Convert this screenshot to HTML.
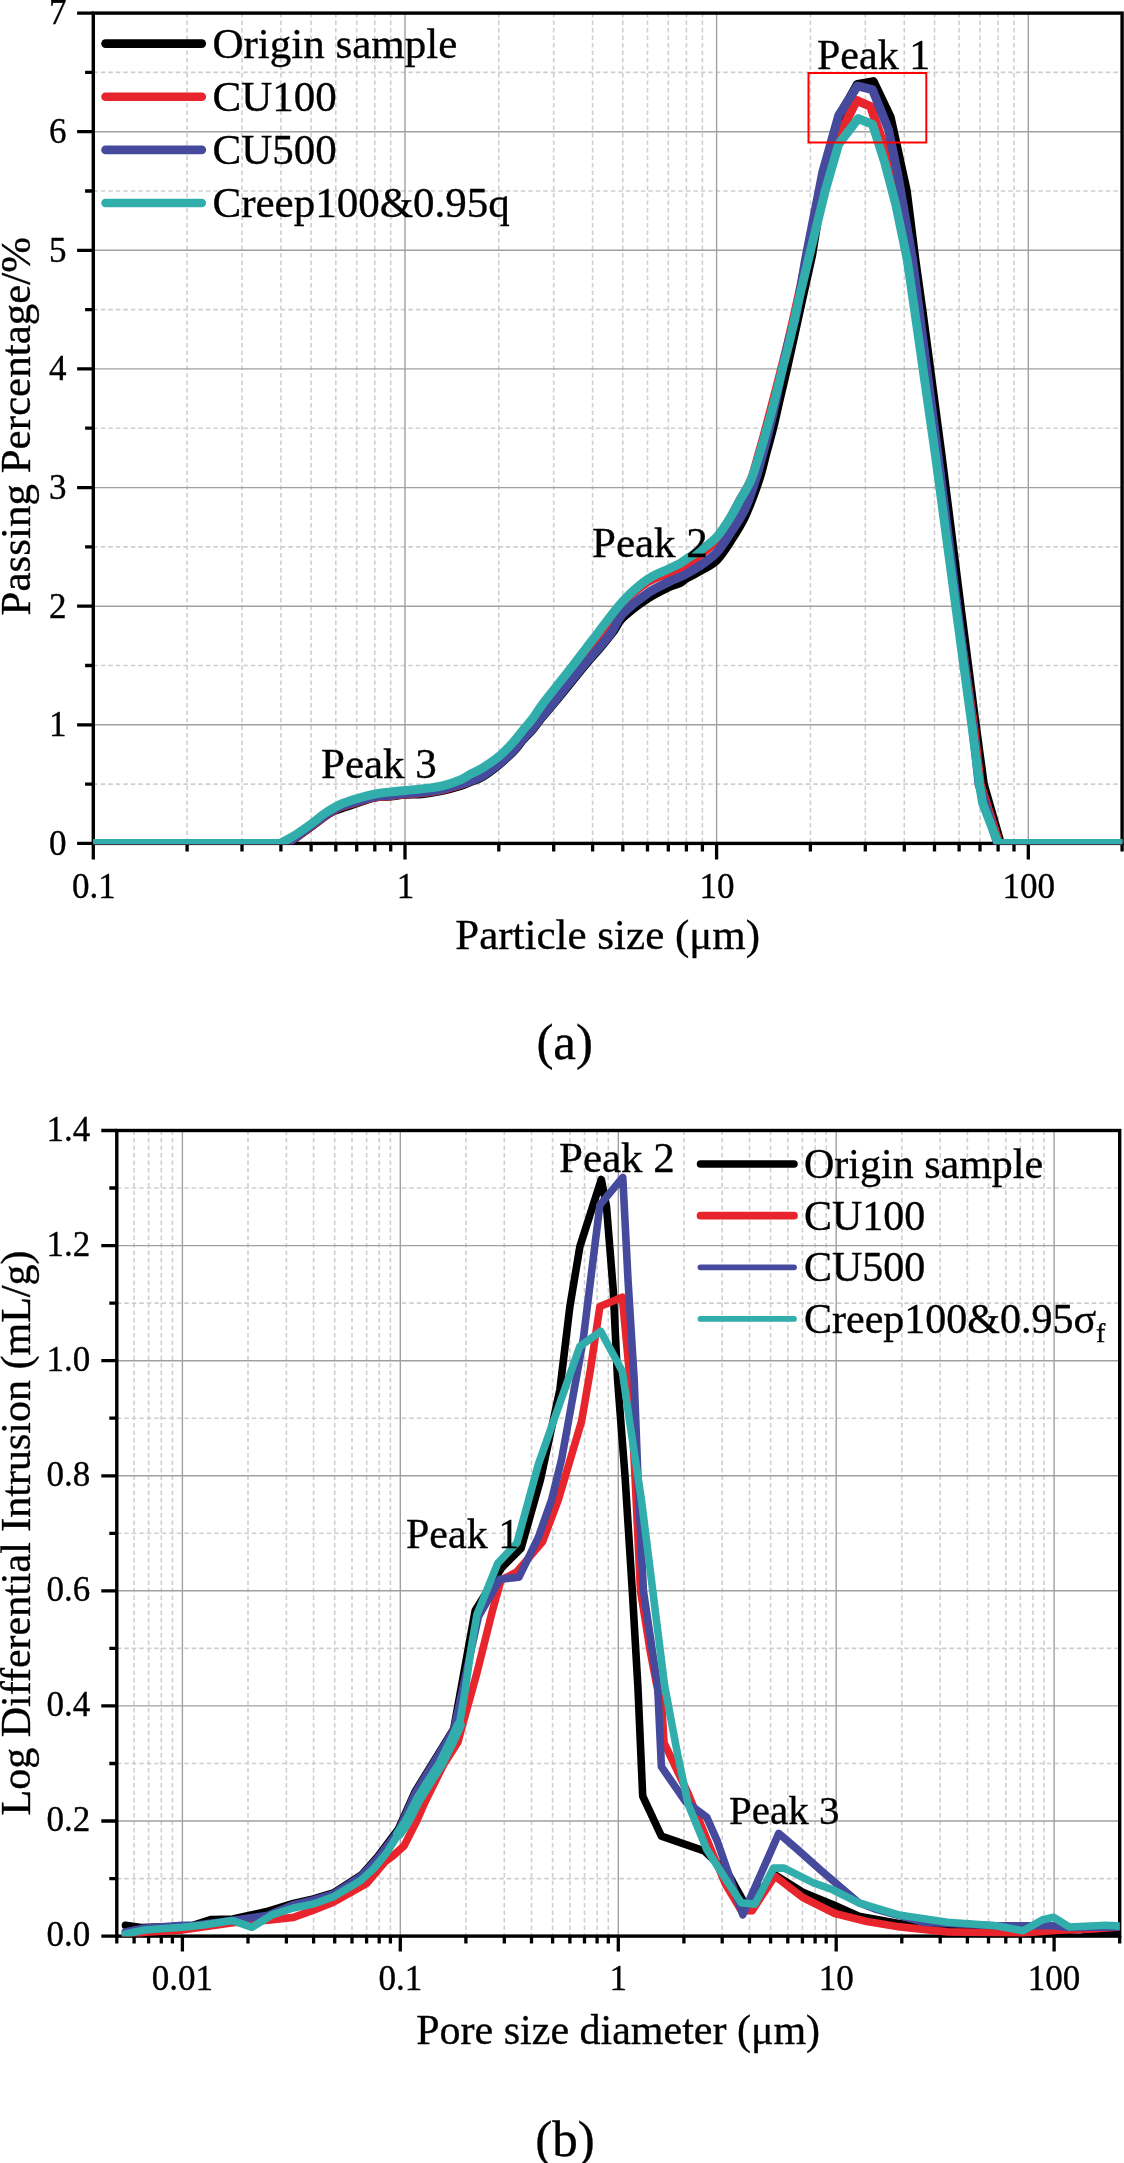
<!DOCTYPE html><html><head><meta charset="utf-8"><style>html,body{margin:0;padding:0;background:#fff;overflow:hidden}svg{display:block;will-change:transform}text{font-family:"Liberation Serif",serif;fill:#000;stroke:#000;stroke-width:0.35px}.mi{stroke:#cfcfcf;stroke-width:1.6;stroke-dasharray:4.5 3}.ma{stroke:#a0a0a0;stroke-width:1.4}.tk{stroke:#000;stroke-width:3.3;fill:none}.fr{fill:none;stroke:#000;stroke-width:3.4}</style></head><body>
<svg width="1124" height="2163" viewBox="0 0 1124 2163">
<defs><clipPath id="ca"><rect x="93.3" y="13.1" width="1029.1" height="831.0999999999999"/></clipPath><clipPath id="cb"><rect x="116.8" y="1130.5" width="1002.9000000000001" height="805.8999999999999"/></clipPath></defs>
<line x1="187.1" y1="13.1" x2="187.1" y2="843.4" class="mi"/>
<line x1="242.0" y1="13.1" x2="242.0" y2="843.4" class="mi"/>
<line x1="280.9" y1="13.1" x2="280.9" y2="843.4" class="mi"/>
<line x1="311.1" y1="13.1" x2="311.1" y2="843.4" class="mi"/>
<line x1="335.8" y1="13.1" x2="335.8" y2="843.4" class="mi"/>
<line x1="356.7" y1="13.1" x2="356.7" y2="843.4" class="mi"/>
<line x1="374.8" y1="13.1" x2="374.8" y2="843.4" class="mi"/>
<line x1="390.7" y1="13.1" x2="390.7" y2="843.4" class="mi"/>
<line x1="498.8" y1="13.1" x2="498.8" y2="843.4" class="mi"/>
<line x1="553.7" y1="13.1" x2="553.7" y2="843.4" class="mi"/>
<line x1="592.6" y1="13.1" x2="592.6" y2="843.4" class="mi"/>
<line x1="622.8" y1="13.1" x2="622.8" y2="843.4" class="mi"/>
<line x1="647.5" y1="13.1" x2="647.5" y2="843.4" class="mi"/>
<line x1="668.3" y1="13.1" x2="668.3" y2="843.4" class="mi"/>
<line x1="686.4" y1="13.1" x2="686.4" y2="843.4" class="mi"/>
<line x1="702.4" y1="13.1" x2="702.4" y2="843.4" class="mi"/>
<line x1="810.4" y1="13.1" x2="810.4" y2="843.4" class="mi"/>
<line x1="865.3" y1="13.1" x2="865.3" y2="843.4" class="mi"/>
<line x1="904.3" y1="13.1" x2="904.3" y2="843.4" class="mi"/>
<line x1="934.5" y1="13.1" x2="934.5" y2="843.4" class="mi"/>
<line x1="959.1" y1="13.1" x2="959.1" y2="843.4" class="mi"/>
<line x1="980.0" y1="13.1" x2="980.0" y2="843.4" class="mi"/>
<line x1="998.1" y1="13.1" x2="998.1" y2="843.4" class="mi"/>
<line x1="1014.0" y1="13.1" x2="1014.0" y2="843.4" class="mi"/>
<line x1="93.3" y1="784.1" x2="1122.1" y2="784.1" class="mi"/>
<line x1="93.3" y1="665.5" x2="1122.1" y2="665.5" class="mi"/>
<line x1="93.3" y1="546.9" x2="1122.1" y2="546.9" class="mi"/>
<line x1="93.3" y1="428.2" x2="1122.1" y2="428.2" class="mi"/>
<line x1="93.3" y1="309.6" x2="1122.1" y2="309.6" class="mi"/>
<line x1="93.3" y1="191.0" x2="1122.1" y2="191.0" class="mi"/>
<line x1="93.3" y1="72.4" x2="1122.1" y2="72.4" class="mi"/>
<line x1="405.0" y1="13.1" x2="405.0" y2="843.4" class="ma"/>
<line x1="716.6" y1="13.1" x2="716.6" y2="843.4" class="ma"/>
<line x1="1028.3" y1="13.1" x2="1028.3" y2="843.4" class="ma"/>
<line x1="93.3" y1="724.8" x2="1122.1" y2="724.8" class="ma"/>
<line x1="93.3" y1="606.2" x2="1122.1" y2="606.2" class="ma"/>
<line x1="93.3" y1="487.6" x2="1122.1" y2="487.6" class="ma"/>
<line x1="93.3" y1="368.9" x2="1122.1" y2="368.9" class="ma"/>
<line x1="93.3" y1="250.3" x2="1122.1" y2="250.3" class="ma"/>
<line x1="93.3" y1="131.7" x2="1122.1" y2="131.7" class="ma"/>
<line x1="134.1" y1="1130.5" x2="134.1" y2="1936.1" class="mi"/>
<line x1="148.6" y1="1130.5" x2="148.6" y2="1936.1" class="mi"/>
<line x1="161.3" y1="1130.5" x2="161.3" y2="1936.1" class="mi"/>
<line x1="172.4" y1="1130.5" x2="172.4" y2="1936.1" class="mi"/>
<line x1="248.0" y1="1130.5" x2="248.0" y2="1936.1" class="mi"/>
<line x1="286.4" y1="1130.5" x2="286.4" y2="1936.1" class="mi"/>
<line x1="313.6" y1="1130.5" x2="313.6" y2="1936.1" class="mi"/>
<line x1="334.7" y1="1130.5" x2="334.7" y2="1936.1" class="mi"/>
<line x1="352.0" y1="1130.5" x2="352.0" y2="1936.1" class="mi"/>
<line x1="366.6" y1="1130.5" x2="366.6" y2="1936.1" class="mi"/>
<line x1="379.2" y1="1130.5" x2="379.2" y2="1936.1" class="mi"/>
<line x1="390.4" y1="1130.5" x2="390.4" y2="1936.1" class="mi"/>
<line x1="465.9" y1="1130.5" x2="465.9" y2="1936.1" class="mi"/>
<line x1="504.3" y1="1130.5" x2="504.3" y2="1936.1" class="mi"/>
<line x1="531.5" y1="1130.5" x2="531.5" y2="1936.1" class="mi"/>
<line x1="552.6" y1="1130.5" x2="552.6" y2="1936.1" class="mi"/>
<line x1="569.9" y1="1130.5" x2="569.9" y2="1936.1" class="mi"/>
<line x1="584.5" y1="1130.5" x2="584.5" y2="1936.1" class="mi"/>
<line x1="597.1" y1="1130.5" x2="597.1" y2="1936.1" class="mi"/>
<line x1="608.3" y1="1130.5" x2="608.3" y2="1936.1" class="mi"/>
<line x1="683.9" y1="1130.5" x2="683.9" y2="1936.1" class="mi"/>
<line x1="722.2" y1="1130.5" x2="722.2" y2="1936.1" class="mi"/>
<line x1="749.5" y1="1130.5" x2="749.5" y2="1936.1" class="mi"/>
<line x1="770.6" y1="1130.5" x2="770.6" y2="1936.1" class="mi"/>
<line x1="787.8" y1="1130.5" x2="787.8" y2="1936.1" class="mi"/>
<line x1="802.4" y1="1130.5" x2="802.4" y2="1936.1" class="mi"/>
<line x1="815.1" y1="1130.5" x2="815.1" y2="1936.1" class="mi"/>
<line x1="826.2" y1="1130.5" x2="826.2" y2="1936.1" class="mi"/>
<line x1="901.8" y1="1130.5" x2="901.8" y2="1936.1" class="mi"/>
<line x1="940.2" y1="1130.5" x2="940.2" y2="1936.1" class="mi"/>
<line x1="967.4" y1="1130.5" x2="967.4" y2="1936.1" class="mi"/>
<line x1="988.5" y1="1130.5" x2="988.5" y2="1936.1" class="mi"/>
<line x1="1005.8" y1="1130.5" x2="1005.8" y2="1936.1" class="mi"/>
<line x1="1020.3" y1="1130.5" x2="1020.3" y2="1936.1" class="mi"/>
<line x1="1033.0" y1="1130.5" x2="1033.0" y2="1936.1" class="mi"/>
<line x1="1044.1" y1="1130.5" x2="1044.1" y2="1936.1" class="mi"/>
<line x1="116.8" y1="1878.6" x2="1119.7" y2="1878.6" class="mi"/>
<line x1="116.8" y1="1763.5" x2="1119.7" y2="1763.5" class="mi"/>
<line x1="116.8" y1="1648.4" x2="1119.7" y2="1648.4" class="mi"/>
<line x1="116.8" y1="1533.3" x2="1119.7" y2="1533.3" class="mi"/>
<line x1="116.8" y1="1418.2" x2="1119.7" y2="1418.2" class="mi"/>
<line x1="116.8" y1="1303.1" x2="1119.7" y2="1303.1" class="mi"/>
<line x1="116.8" y1="1188.0" x2="1119.7" y2="1188.0" class="mi"/>
<line x1="182.4" y1="1130.5" x2="182.4" y2="1936.1" class="ma"/>
<line x1="400.3" y1="1130.5" x2="400.3" y2="1936.1" class="ma"/>
<line x1="618.3" y1="1130.5" x2="618.3" y2="1936.1" class="ma"/>
<line x1="836.2" y1="1130.5" x2="836.2" y2="1936.1" class="ma"/>
<line x1="1054.1" y1="1130.5" x2="1054.1" y2="1936.1" class="ma"/>
<line x1="116.8" y1="1821.0" x2="1119.7" y2="1821.0" class="ma"/>
<line x1="116.8" y1="1705.9" x2="1119.7" y2="1705.9" class="ma"/>
<line x1="116.8" y1="1590.8" x2="1119.7" y2="1590.8" class="ma"/>
<line x1="116.8" y1="1475.8" x2="1119.7" y2="1475.8" class="ma"/>
<line x1="116.8" y1="1360.7" x2="1119.7" y2="1360.7" class="ma"/>
<line x1="116.8" y1="1245.6" x2="1119.7" y2="1245.6" class="ma"/>
<path d="M93.3 843.4v16.2 M405.0 843.4v16.2 M716.6 843.4v16.2 M1028.3 843.4v16.2 M187.1 843.4v8.2 M242.0 843.4v8.2 M280.9 843.4v8.2 M311.1 843.4v8.2 M335.8 843.4v8.2 M356.7 843.4v8.2 M374.8 843.4v8.2 M390.7 843.4v8.2 M498.8 843.4v8.2 M553.7 843.4v8.2 M592.6 843.4v8.2 M622.8 843.4v8.2 M647.5 843.4v8.2 M668.3 843.4v8.2 M686.4 843.4v8.2 M702.4 843.4v8.2 M810.4 843.4v8.2 M865.3 843.4v8.2 M904.3 843.4v8.2 M934.5 843.4v8.2 M959.1 843.4v8.2 M980.0 843.4v8.2 M998.1 843.4v8.2 M1014.0 843.4v8.2 M1122.1 843.4v8.2 M93.3 843.4h-16.2 M93.3 724.8h-16.2 M93.3 606.2h-16.2 M93.3 487.6h-16.2 M93.3 368.9h-16.2 M93.3 250.3h-16.2 M93.3 131.7h-16.2 M93.3 13.1h-16.2 M93.3 784.1h-8.2 M93.3 665.5h-8.2 M93.3 546.9h-8.2 M93.3 428.2h-8.2 M93.3 309.6h-8.2 M93.3 191.0h-8.2 M93.3 72.4h-8.2" class="tk"/>
<rect x="93.3" y="13.1" width="1028.8" height="830.3" class="fr"/>
<path d="M182.4 1936.1v15.5 M400.3 1936.1v15.5 M618.3 1936.1v15.5 M836.2 1936.1v15.5 M1054.1 1936.1v15.5 M116.8 1936.1v7.5 M134.1 1936.1v7.5 M148.6 1936.1v7.5 M161.3 1936.1v7.5 M172.4 1936.1v7.5 M248.0 1936.1v7.5 M286.4 1936.1v7.5 M313.6 1936.1v7.5 M334.7 1936.1v7.5 M352.0 1936.1v7.5 M366.6 1936.1v7.5 M379.2 1936.1v7.5 M390.4 1936.1v7.5 M465.9 1936.1v7.5 M504.3 1936.1v7.5 M531.5 1936.1v7.5 M552.6 1936.1v7.5 M569.9 1936.1v7.5 M584.5 1936.1v7.5 M597.1 1936.1v7.5 M608.3 1936.1v7.5 M683.9 1936.1v7.5 M722.2 1936.1v7.5 M749.5 1936.1v7.5 M770.6 1936.1v7.5 M787.8 1936.1v7.5 M802.4 1936.1v7.5 M815.1 1936.1v7.5 M826.2 1936.1v7.5 M901.8 1936.1v7.5 M940.2 1936.1v7.5 M967.4 1936.1v7.5 M988.5 1936.1v7.5 M1005.8 1936.1v7.5 M1020.3 1936.1v7.5 M1033.0 1936.1v7.5 M1044.1 1936.1v7.5 M1119.7 1936.1v7.5 M116.8 1936.1h-15.5 M116.8 1821.0h-15.5 M116.8 1705.9h-15.5 M116.8 1590.8h-15.5 M116.8 1475.8h-15.5 M116.8 1360.7h-15.5 M116.8 1245.6h-15.5 M116.8 1130.5h-15.5 M116.8 1878.6h-7.5 M116.8 1763.5h-7.5 M116.8 1648.4h-7.5 M116.8 1533.3h-7.5 M116.8 1418.2h-7.5 M116.8 1303.1h-7.5 M116.8 1188.0h-7.5" class="tk"/>
<rect x="116.8" y="1130.5" width="1002.9" height="805.6" class="fr"/>
<path d="M93.3,843.4 L288.0,843.4 C295.7,837.8 304.2,831.5 311.1,826.5 C318.0,821.5 324.4,816.3 329.2,813.3 C334.0,810.3 335.4,810.3 340.0,808.6 C344.6,806.9 350.8,804.9 356.5,803.0 C362.2,801.1 368.5,798.5 374.2,797.4 C379.9,796.2 385.5,796.6 390.7,796.1 C395.9,795.6 399.6,794.8 405.1,794.4 C410.6,794.0 417.5,794.2 423.7,793.5 C429.9,792.8 436.2,791.8 442.4,790.4 C448.6,789.0 456.4,786.8 461.0,785.4 C465.6,784.0 466.4,783.4 470.0,781.9 C473.6,780.4 477.7,779.5 482.5,776.6 C487.3,773.7 493.8,768.8 499.0,764.5 C504.2,760.2 509.6,755.2 513.6,751.1 C517.6,747.0 519.8,743.2 522.9,739.6 C526.0,736.0 529.4,733.0 532.3,729.7 C535.1,726.4 536.3,724.3 540.0,719.7 C543.7,715.1 547.1,711.4 554.7,702.2 C562.3,693.0 578.0,673.4 585.5,664.4 C593.0,655.4 595.0,653.7 599.5,648.4 C604.0,643.1 608.6,637.5 612.5,632.4 C616.4,627.3 616.8,623.4 622.6,617.7 C628.4,612.1 639.6,603.6 647.3,598.5 C654.9,593.4 663.0,589.6 668.5,587.0 C674.0,584.4 677.0,584.2 680.0,582.8 C683.0,581.3 682.5,580.5 686.2,578.3 C689.9,576.1 697.3,572.5 702.4,569.5 C707.5,566.5 712.1,564.6 716.7,560.0 C721.3,555.4 725.3,549.1 730.0,541.8 C734.7,534.5 740.2,526.3 745.0,516.0 C749.8,505.7 755.3,490.4 758.8,480.0 C762.3,469.6 763.7,462.0 766.0,453.4 C768.3,444.8 770.6,437.2 772.8,428.3 C775.0,419.4 777.0,409.9 779.3,400.0 C781.6,390.1 782.5,386.8 786.5,369.2 C790.5,351.6 800.1,307.7 803.0,294.5 L811.8,255.0 L824.0,180.0 L839.5,116.0 L857.4,84.3 L873.4,81.6 L890.3,117.2 L906.3,190.1 L915.0,259.5 L922.0,309.6 L941.2,455.0 L960.2,606.2 L975.4,724.8 L983.5,784.4 L1000.5,843.4 L1124.0,843.4" fill="none" stroke="#000" stroke-width="8.9" stroke-linejoin="round" stroke-linecap="round" clip-path="url(#ca)"/>
<path d="M93.3,843.4 L287.0,843.4 C295.0,837.6 304.1,831.1 311.1,826.0 C318.1,820.9 324.4,816.1 329.2,813.0 C334.0,809.9 335.4,809.0 340.0,807.2 C344.6,805.4 350.8,803.9 356.5,802.2 C362.2,800.5 368.5,798.3 374.2,797.2 C379.9,796.1 385.5,796.2 390.7,795.7 C395.9,795.2 399.6,794.6 405.1,794.1 C410.6,793.6 417.5,793.5 423.7,792.7 C429.9,792.0 436.2,791.0 442.4,789.6 C448.6,788.2 456.4,786.0 461.0,784.6 C465.6,783.2 466.4,782.8 470.0,781.0 C473.6,779.2 477.7,777.3 482.5,774.0 C487.3,770.7 493.8,765.5 499.0,761.0 C504.2,756.5 509.6,751.2 513.6,747.0 C517.6,742.8 519.8,739.2 522.9,735.5 C526.0,731.8 529.4,728.3 532.3,725.0 C535.1,721.7 536.4,719.8 540.0,715.5 C543.6,711.2 547.7,707.4 554.0,699.0 C560.3,690.6 571.7,673.8 578.0,665.4 C584.3,657.0 587.6,653.9 592.0,648.4 C596.4,642.9 599.4,639.8 604.5,632.4 C609.6,625.0 615.5,612.2 622.6,603.8 C629.7,595.4 639.6,587.1 647.3,582.1 C654.9,577.1 663.0,575.5 668.5,573.5 C674.0,571.5 677.0,571.1 680.0,569.9 C683.0,568.7 682.5,569.4 686.2,566.5 C689.9,563.6 697.3,557.2 702.4,552.8 C707.5,548.4 712.1,545.7 716.7,540.0 C721.3,534.3 726.1,525.2 730.0,518.5 C733.9,511.8 736.5,506.4 740.0,500.0 C743.5,493.6 747.8,487.8 751.0,480.0 C754.2,472.2 756.5,462.0 759.0,453.4 C761.5,444.8 763.6,437.2 766.0,428.3 C768.4,419.4 770.9,409.9 773.5,400.0 C776.1,390.1 779.0,378.7 781.4,369.2 C783.8,359.7 785.1,355.4 788.0,343.0 C790.9,330.6 796.3,307.0 799.0,294.5 L807.0,257.0 L822.0,190.0 L836.0,143.0 L856.5,100.3 L870.7,106.5 L886.8,154.6 L896.0,200.0 L908.0,259.5 L916.0,309.6 L936.5,455.0 L956.5,606.2 L973.5,724.8 L980.3,784.4 L999.0,843.4 L1124.0,843.4" fill="none" stroke="#e8242c" stroke-width="8.9" stroke-linejoin="round" stroke-linecap="round" clip-path="url(#ca)"/>
<path d="M93.3,843.4 L287.0,843.4 C295.0,837.4 304.1,830.6 311.1,825.5 C318.1,820.4 324.4,815.6 329.2,812.5 C334.0,809.4 335.4,808.5 340.0,806.7 C344.6,804.9 350.8,803.4 356.5,801.7 C362.2,800.0 368.5,797.8 374.2,796.7 C379.9,795.6 385.5,795.7 390.7,795.2 C395.9,794.7 399.6,794.1 405.1,793.6 C410.6,793.1 417.5,793.0 423.7,792.2 C429.9,791.5 436.2,790.5 442.4,789.1 C448.6,787.8 456.4,785.4 461.0,784.1 C465.6,782.8 466.4,782.6 470.0,781.2 C473.6,779.8 477.7,778.8 482.5,776.0 C487.3,773.1 493.8,768.1 499.0,763.9 C504.2,759.6 509.6,754.6 513.6,750.5 C517.6,746.3 519.8,742.5 522.9,738.9 C526.0,735.3 529.4,732.3 532.3,729.0 C535.1,725.7 536.4,723.5 540.0,719.0 C543.6,714.5 546.6,711.3 554.0,702.2 C561.4,693.1 577.1,673.4 584.5,664.4 C591.9,655.4 594.0,653.7 598.5,648.4 C603.0,643.1 607.5,638.1 611.5,632.4 C615.5,626.7 616.6,620.6 622.6,614.1 C628.6,607.6 639.6,598.9 647.3,593.5 C654.9,588.1 663.0,584.8 668.5,582.0 C674.0,579.2 677.0,578.3 680.0,577.0 C683.0,575.7 682.5,576.2 686.2,574.0 C689.9,571.8 697.3,567.6 702.4,564.0 C707.5,560.4 712.1,557.5 716.7,552.5 C721.3,547.5 725.3,541.0 730.0,533.7 C734.7,526.5 740.8,518.0 745.0,509.0 C749.2,500.1 752.5,489.3 755.5,480.0 C758.5,470.7 760.7,462.0 763.0,453.4 C765.3,444.8 767.3,437.2 769.5,428.3 C771.7,419.4 773.9,409.9 776.0,400.0 C778.1,390.1 780.1,379.2 782.3,369.2 C784.5,359.2 786.5,349.9 789.0,340.0 C791.5,330.1 794.2,326.8 797.0,310.0 L805.5,259.5 L822.7,172.3 L838.7,115.4 L857.4,86.0 L872.5,89.6 L888.5,129.6 L897.4,172.3 L912.6,259.5 L919.0,309.6 L938.0,455.0 L957.0,606.2 L972.5,724.8 L979.0,784.4 L997.5,843.4 L1124.0,843.4" fill="none" stroke="#464a9c" stroke-width="8.9" stroke-linejoin="round" stroke-linecap="round" clip-path="url(#ca)"/>
<path d="M93.3,843.4 L280.0,843.4 C284.6,840.9 288.5,839.2 293.7,836.0 C298.9,832.8 305.9,827.8 311.1,824.0 C316.3,820.2 320.0,816.6 324.8,813.4 C329.6,810.2 334.7,807.0 340.0,804.6 C345.3,802.2 350.8,800.5 356.5,798.8 C362.2,797.0 368.5,795.3 374.2,794.1 C379.9,792.9 385.5,792.4 390.7,791.8 C395.9,791.2 399.6,791.0 405.1,790.5 C410.6,790.0 417.5,789.5 423.7,788.7 C429.9,787.9 436.2,787.4 442.4,785.9 C448.6,784.4 456.4,781.5 461.0,779.6 C465.6,777.7 466.4,776.4 470.0,774.4 C473.6,772.4 477.7,770.9 482.5,767.9 C487.3,764.9 493.8,760.8 499.0,756.4 C504.2,752.0 509.6,746.2 513.6,741.8 C517.6,737.4 519.8,734.0 522.9,730.2 C526.0,726.4 528.8,723.7 532.3,719.0 C535.8,714.3 537.2,711.1 544.0,702.2 C550.8,693.3 566.0,674.4 573.0,665.4 C580.0,656.4 581.8,653.9 586.0,648.4 C590.2,642.9 592.2,640.2 598.3,632.4 C604.4,624.6 614.4,610.3 622.6,601.5 C630.8,592.7 639.6,584.9 647.3,579.5 C654.9,574.1 663.0,571.6 668.5,568.9 C674.0,566.2 677.0,565.1 680.0,563.5 C683.0,561.9 682.5,561.6 686.2,559.2 C689.9,556.8 697.3,552.6 702.4,548.9 C707.5,545.2 712.1,542.1 716.7,537.0 C721.3,531.9 726.1,524.2 730.0,518.0 C733.9,511.8 736.5,506.3 740.0,500.0 C743.5,493.7 747.7,487.8 751.0,480.0 C754.3,472.2 757.1,462.0 759.8,453.4 C762.5,444.8 764.5,437.2 767.0,428.3 C769.5,419.4 772.1,409.9 774.6,400.0 C777.1,390.1 779.9,378.6 782.3,369.2 C784.7,359.8 786.0,355.8 789.0,343.4 C792.0,330.9 797.0,307.0 800.0,294.5 L809.0,257.0 L825.4,190.1 L838.7,143.9 L858.3,118.6 L872.5,124.3 L885.0,163.5 L895.7,204.4 L907.2,259.5 L914.5,309.6 L935.4,455.0 L955.7,606.2 L971.8,724.8 L979.5,784.4 L982.5,803.0 L998.2,843.4 L1124.0,843.4" fill="none" stroke="#31aeab" stroke-width="8.9" stroke-linejoin="round" stroke-linecap="round" clip-path="url(#ca)"/>
<polyline points="125.5,1925.3 141.1,1927.5 172.3,1926.5 192.7,1925.3 211.4,1919.5 232.8,1919.0 265.7,1911.8 293.4,1903.5 313.4,1899.0 333.4,1893.0 361.4,1875.0 377.4,1857.0 398.4,1829.0 415.2,1791.4 453.7,1728.9 475.2,1610.4 501.9,1567.6 521.1,1548.3 540.4,1480.0 559.9,1389.5 569.9,1306.4 579.9,1246.5 601.3,1179.5 606.5,1206.5 613.2,1289.7 617.6,1380.0 625.0,1476.0 632.3,1590.7 637.9,1686.8 642.7,1796.1 661.4,1836.1 704.1,1850.8 728.1,1873.5 741.4,1897.5 745.5,1905.5 774.8,1874.8 802.8,1892.2 834.9,1905.5 858.9,1916.2 898.8,1923.4 947.5,1929.5 1020.6,1934.5 1080.0,1937.3 1124.0,1931.5" fill="none" stroke="#000" stroke-width="7.6" stroke-linejoin="round" stroke-linecap="round" clip-path="url(#cb)"/>
<polyline points="125.3,1936.5 144.7,1932.3 182.0,1930.1 232.8,1922.8 268.0,1920.1 293.4,1917.4 313.4,1910.1 333.4,1902.1 366.8,1883.4 384.8,1862.0 393.5,1855.4 404.0,1845.9 416.6,1821.3 425.0,1802.0 443.4,1765.0 458.0,1742.0 462.5,1725.0 476.1,1676.1 492.1,1612.0 500.9,1580.4 516.9,1571.8 542.5,1541.9 558.3,1499.8 581.6,1421.1 589.9,1372.9 599.9,1306.4 622.3,1297.2 630.0,1380.0 635.0,1476.0 640.5,1590.7 650.0,1650.0 656.5,1684.0 662.0,1708.0 664.0,1742.7 688.1,1793.4 712.1,1852.1 725.4,1884.1 741.4,1910.8 752.1,1910.8 774.8,1876.1 802.8,1897.5 834.9,1913.5 866.9,1921.5 900.0,1926.9 947.5,1931.9 1020.6,1933.1 1055.0,1930.4 1093.8,1929.0 1124.0,1926.5" fill="none" stroke="#e8242c" stroke-width="7.6" stroke-linejoin="round" stroke-linecap="round" clip-path="url(#cb)"/>
<polyline points="125.3,1932.0 144.7,1928.0 182.0,1925.3 192.7,1925.5 235.4,1920.0 268.0,1915.3 293.4,1904.6 313.4,1900.0 333.4,1894.0 361.4,1875.9 377.4,1858.6 398.4,1831.0 415.2,1793.0 453.7,1730.0 478.4,1616.7 499.8,1579.3 519.0,1577.2 538.2,1537.7 551.6,1499.8 561.6,1459.4 583.2,1339.6 599.9,1204.9 622.8,1177.4 628.1,1281.4 634.2,1380.0 637.9,1476.0 643.4,1590.7 657.7,1686.8 661.4,1766.7 685.4,1801.4 706.8,1817.4 717.4,1841.4 742.8,1914.8 778.8,1833.4 797.5,1849.5 821.5,1870.8 840.2,1886.8 858.9,1902.8 874.4,1908.8 923.1,1922.2 996.3,1925.8 1052.3,1925.8 1069.4,1927.5 1124.0,1927.0" fill="none" stroke="#464a9c" stroke-width="7.6" stroke-linejoin="round" stroke-linecap="round" clip-path="url(#cb)"/>
<polyline points="125.3,1934.0 144.7,1930.0 182.0,1927.3 203.4,1925.0 232.8,1920.6 252.0,1927.3 271.9,1914.9 293.4,1908.0 313.4,1904.0 333.4,1896.7 360.1,1881.0 373.4,1869.0 387.0,1852.3 398.5,1834.0 407.2,1821.3 418.0,1800.0 428.5,1783.0 440.9,1763.6 452.5,1740.0 459.3,1725.0 464.9,1692.1 471.3,1647.3 477.0,1614.5 497.7,1563.3 516.9,1543.0 538.3,1464.4 559.9,1402.9 579.9,1346.3 600.7,1331.3 622.3,1371.2 629.8,1422.8 641.4,1499.8 664.5,1685.0 677.4,1753.4 688.1,1804.1 706.8,1849.5 725.4,1878.8 741.4,1902.8 754.8,1904.2 773.5,1868.1 784.1,1868.1 813.5,1882.8 832.2,1889.5 858.9,1902.8 898.8,1914.9 947.5,1922.2 996.3,1925.8 1023.1,1930.7 1042.6,1919.7 1053.6,1917.3 1069.4,1927.0 1106.0,1925.3 1124.0,1926.3" fill="none" stroke="#31aeab" stroke-width="7.6" stroke-linejoin="round" stroke-linecap="round" clip-path="url(#cb)"/>
<polyline points="398.5,1834.0 407.2,1821.3 418.0,1800.0 428.5,1783.0 440.9,1763.6 452.5,1740.0 459.3,1725.0" fill="none" stroke="#31aeab" stroke-width="11" stroke-linejoin="round" stroke-linecap="round" clip-path="url(#cb)"/>
<rect x="808.5" y="73" width="117.8" height="69.5" fill="none" stroke="#ff0000" stroke-width="2"/>
<text x="93.8" y="898" font-size="35" text-anchor="middle">0.1</text>
<text x="405.5" y="898" font-size="35" text-anchor="middle">1</text>
<text x="717.1" y="898" font-size="35" text-anchor="middle">10</text>
<text x="1028.8" y="898" font-size="35" text-anchor="middle">100</text>
<text x="66.5" y="854.7" font-size="35" text-anchor="end">0</text>
<text x="66.5" y="736.1" font-size="35" text-anchor="end">1</text>
<text x="66.5" y="617.5" font-size="35" text-anchor="end">2</text>
<text x="66.5" y="498.9" font-size="35" text-anchor="end">3</text>
<text x="66.5" y="380.2" font-size="35" text-anchor="end">4</text>
<text x="66.5" y="261.6" font-size="35" text-anchor="end">5</text>
<text x="66.5" y="143.0" font-size="35" text-anchor="end">6</text>
<text x="66.5" y="24.4" font-size="35" text-anchor="end">7</text>
<text x="182.4" y="1989.7" font-size="35" text-anchor="middle">0.01</text>
<text x="400.3" y="1989.7" font-size="35" text-anchor="middle">0.1</text>
<text x="618.3" y="1989.7" font-size="35" text-anchor="middle">1</text>
<text x="836.2" y="1989.7" font-size="35" text-anchor="middle">10</text>
<text x="1054.1" y="1989.7" font-size="35" text-anchor="middle">100</text>
<text x="90.2" y="1946.1" font-size="35" text-anchor="end">0.0</text>
<text x="90.2" y="1831.0" font-size="35" text-anchor="end">0.2</text>
<text x="90.2" y="1715.9" font-size="35" text-anchor="end">0.4</text>
<text x="90.2" y="1600.8" font-size="35" text-anchor="end">0.6</text>
<text x="90.2" y="1485.8" font-size="35" text-anchor="end">0.8</text>
<text x="90.2" y="1370.7" font-size="35" text-anchor="end">1.0</text>
<text x="90.2" y="1255.6" font-size="35" text-anchor="end">1.2</text>
<text x="90.2" y="1140.5" font-size="35" text-anchor="end">1.4</text>
<text x="607.7" y="949" font-size="43" text-anchor="middle">Particle size (μm)</text>
<text transform="translate(30.1 426.2) rotate(-90)" font-size="43" text-anchor="middle">Passing Percentage/%</text>
<text x="564.7" y="1058.8" font-size="51" text-anchor="middle">(a)</text>
<text x="618.2" y="2044" font-size="42" text-anchor="middle">Pore size diameter (μm)</text>
<text transform="translate(30 1533) rotate(-90)" font-size="42" text-anchor="middle">Log Differential Intrusion (mL/g)</text>
<text x="565" y="2156" font-size="51" text-anchor="middle">(b)</text>
<line x1="105.5" y1="43.6" x2="201.8" y2="43.6" stroke="#000" stroke-width="8.6" stroke-linecap="round"/>
<text x="212.5" y="57.8" font-size="43">Origin sample</text>
<line x1="105.5" y1="96.7" x2="201.8" y2="96.7" stroke="#e8242c" stroke-width="8.6" stroke-linecap="round"/>
<text x="212.5" y="110.9" font-size="43">CU100</text>
<line x1="105.5" y1="149.9" x2="201.8" y2="149.9" stroke="#464a9c" stroke-width="8.6" stroke-linecap="round"/>
<text x="212.5" y="164.1" font-size="43">CU500</text>
<line x1="105.5" y1="203.0" x2="201.8" y2="203.0" stroke="#31aeab" stroke-width="8.6" stroke-linecap="round"/>
<text x="212.5" y="217.2" font-size="43">Creep100&amp;0.95q</text>
<line x1="700.5" y1="1164.1" x2="794" y2="1164.1" stroke="#000" stroke-width="7.5" stroke-linecap="round"/>
<text x="804" y="1178.1" font-size="42">Origin sample</text>
<line x1="700.5" y1="1215.7" x2="794" y2="1215.7" stroke="#e8242c" stroke-width="7.7" stroke-linecap="round"/>
<text x="804" y="1229.7" font-size="42">CU100</text>
<line x1="700.5" y1="1267.3" x2="794" y2="1267.3" stroke="#464a9c" stroke-width="5.8" stroke-linecap="round"/>
<text x="804" y="1281.3" font-size="42">CU500</text>
<line x1="700.5" y1="1318.9" x2="794" y2="1318.9" stroke="#31aeab" stroke-width="5.8" stroke-linecap="round"/>
<text x="804" y="1332.9" font-size="42">Creep100&amp;0.95σ<tspan font-size="28" dy="9">f</tspan></text>
<text x="817" y="69.1" font-size="42">Peak 1</text>
<text x="592" y="556.6" font-size="43">Peak 2</text>
<text x="321" y="778" font-size="43">Peak 3</text>
<text x="406" y="1548.3" font-size="42">Peak 1</text>
<text x="559" y="1172.4" font-size="43">Peak 2</text>
<text x="729" y="1823.7" font-size="41">Peak 3</text>
</svg></body></html>
